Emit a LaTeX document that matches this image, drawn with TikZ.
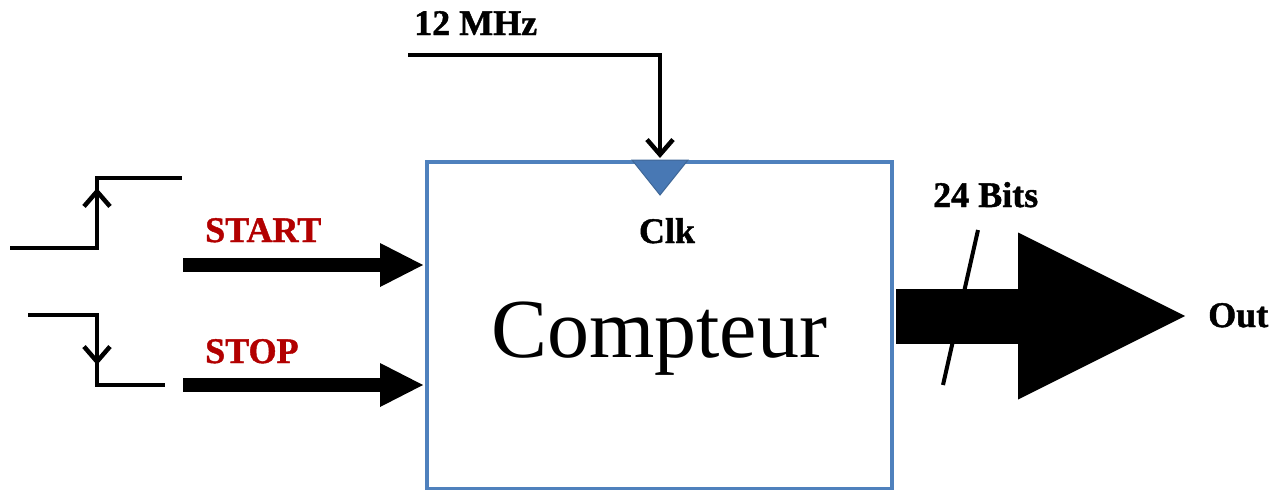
\documentclass[tikz,border=0pt]{standalone}
\usepackage{fontspec}
\setmainfont{Liberation Serif}
\newfontfamily\heavyfont{Liberation Serif Bold}[FakeBold=1.2]
\usetikzlibrary{arrows.meta,calc}
\definecolor{boxblue}{RGB}{79,129,189}
\definecolor{clkblue}{RGB}{72,120,180}
\definecolor{sigred}{RGB}{178,0,0}
\begin{document}
\begin{tikzpicture}[x=1pt,y=-1pt,
  lbl/.style={font=\fontsize{36}{36}\heavyfont, inner sep=0pt},
  wire/.style={line width=4.5pt, black, line join=miter},
  barb/.style={-{Straight Barb[length=15pt,width=26pt]}},
  bus/.style={line width=14pt, -{Triangle[length=43pt,width=44pt,line width=0pt]}},
  outbus/.style={line width=55pt, -{Triangle[length=167pt,width=167pt,line width=0pt]}}]
\useasboundingbox (0,0) rectangle (1280,490);

% counter block
\node[draw=boxblue, line width=4pt, minimum width=465pt, minimum height=327pt,
      inner sep=0pt, anchor=north west] (cnt) at (425,160) {};
\node[font=\fontsize{84}{84}\selectfont, inner sep=0pt, anchor=base] (name) at (659,357) {Compteur};

% clock input
\fill[clkblue, draw=boxblue!80!black, line width=1pt] (632,160) -- (688,160) -- (660,195) -- cycle;
\coordinate (clksrc) at (408,55);
\coordinate (clkin) at (660,158);
\draw[wire, barb] (clksrc) -| (clkin);
\node[lbl, anchor=base west] (freq) at (414,35) {12 MHz};
\node[lbl, anchor=base] (clk) at (667,243) {Clk};

% start / stop waveforms
\draw[wire] (10,248) -- (97,248) -- (97,178) -- (182,178);
\draw[wire, barb] (97,248) -- (97,188);
\draw[wire] (28,315) -- (97,315) -- (97,385) -- (165,385);
\draw[wire, barb] (97,315) -- (97,365);

% start / stop inputs
\coordinate (startsrc) at (183,265);
\coordinate (stopsrc) at (183,385);
\draw[bus] (startsrc) -- ($(cnt.west |- startsrc)+(-2,0)$);
\draw[bus] (stopsrc) -- ($(cnt.west |- stopsrc)+(-2,0)$);
\node[lbl, text=sigred, anchor=base west] (start) at (205,242) {START};
\node[lbl, text=sigred, anchor=base west] (stop) at (205,363) {STOP};

% 24-bit output bus
\coordinate (outtip) at (1185,316);
\draw[outbus] ($(cnt.east |- outtip)+(2,0)$) -- (outtip);
\coordinate (slashtop) at (978,230);
\coordinate (slashbot) at (943,385);
\draw[wire, line width=4pt] (slashtop) -- (slashbot);
\node[lbl, anchor=base west] (width) at (933,207) {24 Bits};
\node[lbl, anchor=base west] (out) at (1208,327) {Out};
\end{tikzpicture}
\end{document}
